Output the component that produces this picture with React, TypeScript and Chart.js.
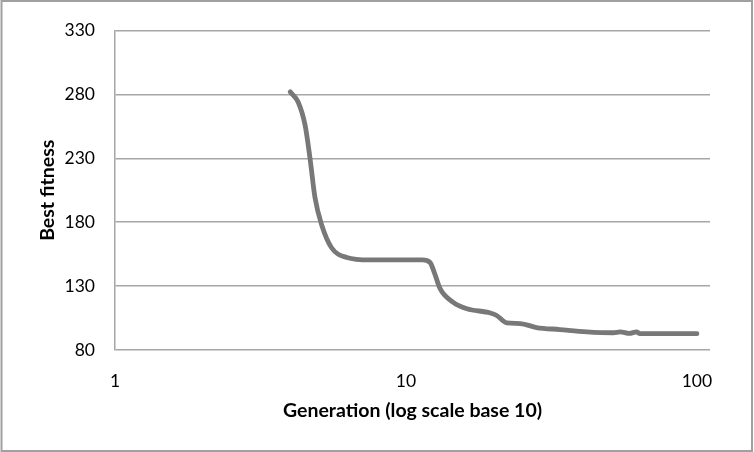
import React, { useEffect, useRef } from "react";
import { Chart, registerables } from "chart.js";

Chart.register(...registerables);

const generations = [4, 4.26, 4.5, 4.68, 4.87, 5.13, 5.55, 6.26, 7.5, 9.5, 11.4, 12.1, 12.5, 13.1, 14.5, 16.2, 19.5, 20.5, 22.2, 24.7, 28.1, 33.8, 41.8, 51.6, 54.5, 58.6, 62, 63.7, 75, 100];
const bestFitness = [282, 274, 256, 230, 199, 178, 160, 152.4, 150.5, 150.5, 150.5, 148.5, 141, 128, 117.5, 112.3, 109, 107, 101.2, 100.7, 97.6, 96, 94.2, 93.5, 94.2, 93, 94.2, 92.8, 92.8, 92.8];
const xTickValues = [1, 10, 100];
const yMin = 80;
const yMax = 330;
const yStep = 50;
const xTitle = "Generation (log scale base 10)";
const yTitle = "Best fitness";

const FONT = "Lato, 'Open Sans', sans-serif";

const borderPlugin = {
  id: "outerBorder",
  afterDraw(chart: any) {
    const ctx = chart.ctx;
    ctx.save();
    ctx.strokeStyle = "#a0a0a0";
    ctx.lineWidth = 2;
    ctx.strokeRect(1.5, 1, chart.width - 3.5, chart.height - 2);
    ctx.restore();
  },
};

export default function App() {
  const ref = useRef<HTMLCanvasElement | null>(null);
  useEffect(() => {
    if (!ref.current) return;
    const data = generations.map((g, i) => ({ x: g, y: bestFitness[i] }));
    const chart = new Chart(ref.current, {
      type: "line",
      data: {
        datasets: [
          {
            data,
            borderColor: "#787878",
            borderWidth: 4.8,
            pointRadius: 0,
            cubicInterpolationMode: "monotone",
            borderCapStyle: "round",
            borderJoinStyle: "round",
            fill: false,
          },
        ],
      },
      options: {
        animation: false,
        responsive: false,
        maintainAspectRatio: false,
        layout: { padding: { left: 0, right: 44, top: 28, bottom: 0 } },
        plugins: { legend: { display: false }, tooltip: { enabled: false } },
        scales: {
          x: {
            type: "logarithmic",
            min: 1,
            max: 110.9,
            afterBuildTicks: (scale: any) => {
              scale.ticks = xTickValues.map((v) => ({ value: v }));
            },
            afterFit: (scale: any) => {
              scale.height = 102;
            },
            grid: { display: false, drawTicks: false },
            border: { display: false },
            ticks: {
              autoSkip: false,
              maxRotation: 0,
              padding: 21,
              color: "#000",
              font: { family: FONT, size: 17.5 },
              callback: (v: any) => String(v),
            },
            title: {
              display: true,
              text: xTitle,
              color: "#000",
              font: { family: FONT, size: 19.5, weight: "bold" },
              padding: { top: 0, bottom: 30 },
            },
          },
          y: {
            min: yMin,
            max: yMax,
            afterFit: (scale: any) => {
              scale.width = 115;
            },
            grid: { color: "#a6a6a6", lineWidth: 1.5, drawTicks: false },
            border: { display: true, color: "#a6a6a6", width: 1.5 },
            ticks: {
              stepSize: yStep,
              padding: 20,
              color: "#000",
              font: { family: FONT, size: 17.5 },
            },
            title: {
              display: true,
              text: yTitle,
              color: "#000",
              font: { family: FONT, size: 19.5, weight: "bold" },
              padding: { top: 36, bottom: 0 },
            },
          },
        },
      },
      plugins: [borderPlugin],
    } as any);
    return () => chart.destroy();
  }, []);
  return (
    <div style={{ position: "fixed", left: 0, top: 0, width: 754, height: 452, background: "#fff" }}>
      <canvas ref={ref} width={754} height={452} style={{ display: "block" }} />
    </div>
  );
}
